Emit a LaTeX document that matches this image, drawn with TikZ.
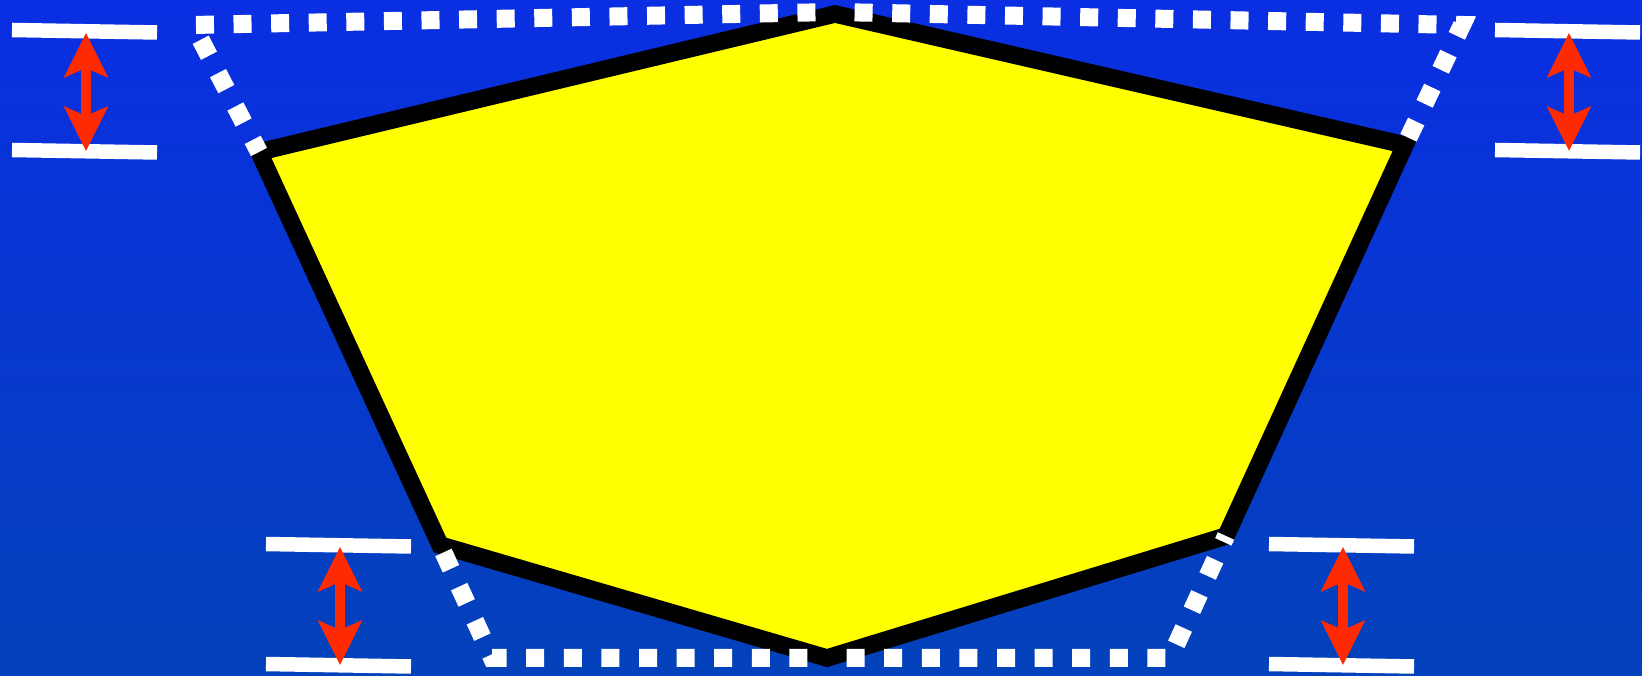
\documentclass[tikz,border=0pt]{standalone}
\usepackage{tikz}
\usetikzlibrary{arrows.meta}
\usepackage{xcolor}
\definecolor{skytop}{HTML}{0A2EE2}
\definecolor{skybot}{HTML}{0342BA}
\definecolor{plate}{HTML}{FFFF00}
\definecolor{gaugered}{HTML}{FF2A00}
\tikzset{
  backdrop/.style={top color=skytop,bottom color=skybot,draw=none},
  plateline/.style={draw=black,fill=plate,line width=1.75mm,line join=miter},
  dotline/.style={draw=white,line width=1.8mm,dash pattern=on 1.8mm off 1.96mm,dash phase=1.8mm},
  gaugebar/.style={draw=white,line width=1.45mm},
  gaugearrow/.style={{Stealth[length=4.4mm,width=4.3mm,inset=0.9mm]}-{Stealth[length=4.4mm,width=4.3mm,inset=0.9mm]},draw=gaugered,line width=1mm},
}

\begin{document}
\begin{tikzpicture}[x=0.1mm,y=-0.1mm]

\shade[backdrop] (0,0) rectangle (1642,676);
\useasboundingbox (0,0) rectangle (1642,676);

\coordinate (left) at (259,152);
\coordinate (top) at (835,14);
\coordinate (right) at (1405,145);
\coordinate (lowright) at (1226,536);
\coordinate (bottom) at (827,658);
\coordinate (lowleft) at (440,545);

\coordinate (dtopleft) at (193,25);
\coordinate (dtop) at (835,12);
\coordinate (dtopright) at (1462,25);
\coordinate (dbotleft) at (492,658);
\coordinate (dbotright) at (1170,658);

\draw[plateline] (left) -- (top) -- (right) -- (lowright) -- (bottom) -- (lowleft) -- cycle;

\draw[dotline] (dtop) -- (dtopleft) -- (left);
\draw[dotline] (dtop) -- (dtopright) -- (right);
\draw[dotline] (bottom) -- (dbotleft) -- (lowleft);
\draw[dotline] (bottom) -- (dbotright) -- (lowright);

\foreach \gx/\gy/\gn in {12/30/tl,1495/30/tr,266/544/bl,1269/544/br}{
  \coordinate (\gn-a) at (\gx,\gy);
  \coordinate (\gn-b) at (\gx+145,\gy+2.5);
  \coordinate (\gn-c) at (\gx,\gy+120);
  \coordinate (\gn-d) at (\gx+145,\gy+122.5);
  \coordinate (\gn-up) at (\gx+74,\gy+3);
  \coordinate (\gn-dn) at (\gx+74,\gy+121);
  \draw[gaugebar] (\gn-a) -- (\gn-b);
  \draw[gaugebar] (\gn-c) -- (\gn-d);
  \draw[gaugearrow] (\gn-up) -- (\gn-dn);
}

\end{tikzpicture}
\end{document}
